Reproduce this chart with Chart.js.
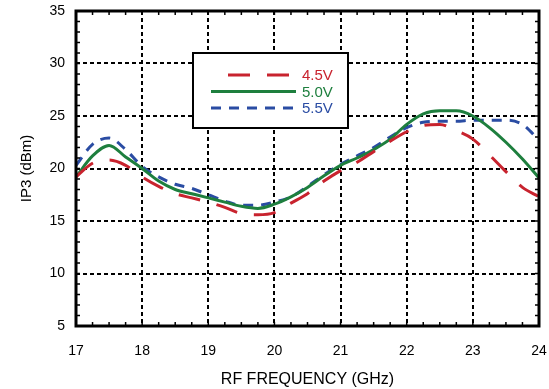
<!DOCTYPE html>
<html>
<head>
<meta charset="utf-8">
<script src="https://cdn.jsdelivr.net/npm/chart.js@4.4.1/dist/chart.umd.min.js"></script>
<style>
  html, body { margin: 0; padding: 0; background: #fff; }
  #wrap { width: 549px; height: 389px; }
</style>
</head>
<body>
<div id="wrap"><canvas id="ip3"></canvas></div>
<script>
// RF frequency sweep, GHz
const freqs = [17, 17.25, 17.5, 17.75, 18, 18.25, 18.5, 18.75, 19, 19.25, 19.5, 19.75,
  20, 20.25, 20.5, 20.75, 21, 21.25, 21.5, 21.75, 22, 22.25, 22.5, 22.75,
  23, 23.25, 23.5, 23.75, 24]

// IP3 in dBm at each supply voltage
const ip3At4v5 = [19.2, 20.5, 20.8, 20.3, 19.2, 18.3, 17.6, 17.2, 16.8, 16.3, 15.7, 15.6,
  15.8, 16.7, 17.6, 18.8, 19.8, 20.6, 21.6, 22.6, 23.5, 24.1, 24.2, 23.6,
  22.8, 21.3, 19.7, 18.2, 17.3]
const ip3At5v0 = [19.2, 21.2, 22.2, 21.1, 20.0, 18.8, 18.0, 17.6, 17.2, 16.8, 16.4, 16.2,
  16.6, 17.3, 18.2, 19.3, 20.3, 21.0, 21.8, 22.8, 24.2, 25.2, 25.5, 25.5,
  25.0, 23.9, 22.5, 20.9, 19.1]
const ip3At5v5 = [20.3, 22.3, 22.9, 21.8, 20.2, 19.2, 18.5, 18.1, 17.5, 16.9, 16.5, 16.5,
  16.8, 17.3, 18.3, 19.4, 20.4, 21.2, 22.0, 23.0, 23.9, 24.4, 24.5, 24.5,
  24.6, 24.6, 24.6, 24.2, 22.7]

const seriesNames = ['4.5V', '5.0V', '5.5V']
const xTicks = [17, 18, 19, 20, 21, 22, 23, 24]
const yTicks = [5, 10, 15, 20, 25, 30, 35]

const FONT = "'Liberation Sans', Arial, Helvetica, sans-serif"
const RED = '#c8232e'
const GREEN = '#1e7f3e'
const BLUE = '#2a4ca3'

const toPoints = (vals) => vals.map((v, i) => ({ x: freqs[i], y: v }))

// solid frame + small inward ticks on all four sides
const framePlugin = {
  id: 'frame',
  afterDatasetsDraw(chart) {
    const { ctx, chartArea: a, scales } = chart
    const x = scales.x
    const y = scales.y
    ctx.save()
    ctx.strokeStyle = '#000'
    ctx.setLineDash([])
    ctx.lineWidth = 1.5
    ctx.beginPath()
    for (let v = 17; v <= 24.001; v += 0.25) {
      const px = x.getPixelForValue(v)
      ctx.moveTo(px, a.bottom)
      ctx.lineTo(px, a.bottom - 4)
      ctx.moveTo(px, a.top)
      ctx.lineTo(px, a.top + 4)
    }
    for (let v = 5; v <= 35; v += 1) {
      const py = y.getPixelForValue(v)
      ctx.moveTo(a.left, py)
      ctx.lineTo(a.left + 4, py)
      ctx.moveTo(a.right, py)
      ctx.lineTo(a.right - 4, py)
    }
    ctx.stroke()
    ctx.lineWidth = 3
    ctx.strokeRect(a.left, a.top, a.right - a.left, a.bottom - a.top)
    ctx.restore()
  },
}

// boxed legend with line samples and coloured labels
const boxLegend = {
  id: 'boxLegend',
  afterDraw(chart, args, opts) {
    const { ctx } = chart
    ctx.save()
    ctx.fillStyle = '#fff'
    ctx.fillRect(opts.left, opts.top, opts.width, opts.height)
    ctx.strokeStyle = '#000'
    ctx.lineWidth = 2
    ctx.setLineDash([])
    ctx.strokeRect(opts.left, opts.top, opts.width, opts.height)

    chart.data.datasets.forEach((ds, i) => {
      const rowY = opts.top + opts.firstRow + i * opts.rowGap
      ctx.strokeStyle = ds.borderColor
      ctx.lineWidth = ds.borderWidth
      ctx.setLineDash(ds.borderDash || [])
      ctx.lineDashOffset = ds.legendDashOffset || 0
      ctx.beginPath()
      ctx.moveTo(opts.left + 18, rowY)
      ctx.lineTo(opts.left + 103, rowY)
      ctx.stroke()

      ctx.setLineDash([])
      ctx.fillStyle = ds.borderColor
      ctx.font = '15px ' + FONT
      ctx.textBaseline = 'middle'
      ctx.textAlign = 'left'
      ctx.fillText(ds.label, opts.left + 109, rowY + 1)
    })
    ctx.restore()
  },
}

new Chart(document.getElementById('ip3'), {
  type: 'line',
  data: {
    datasets: [
      {
        label: seriesNames[0],
        data: toPoints(ip3At4v5),
        borderColor: RED,
        borderWidth: 3,
        borderDash: [22, 17],
        legendDashOffset: 22,
        cubicInterpolationMode: 'monotone',
        pointRadius: 0,
        fill: false,
      },
      {
        label: seriesNames[1],
        data: toPoints(ip3At5v0),
        borderColor: GREEN,
        borderWidth: 3,
        cubicInterpolationMode: 'monotone',
        pointRadius: 0,
        fill: false,
      },
      {
        label: seriesNames[2],
        data: toPoints(ip3At5v5),
        borderColor: BLUE,
        borderWidth: 3,
        borderDash: [10, 8],
        cubicInterpolationMode: 'monotone',
        pointRadius: 0,
        fill: false,
      },
    ],
  },
  options: {
    responsive: true,
    maintainAspectRatio: false,
    animation: false,
    events: [],
    layout: { padding: { top: 11, right: 10, bottom: 0, left: 0 } },
    scales: {
      x: {
        type: 'linear',
        min: 17,
        max: 24,
        afterBuildTicks: (scale) => {
          scale.ticks = xTicks.map((v) => ({ value: v }))
        },
        afterFit: (scale) => {
          scale.height = 63
          scale.paddingLeft = 0
          scale.paddingRight = 0
        },
        ticks: {
          color: '#000',
          font: { family: FONT, size: 14 },
          padding: 17,
          maxRotation: 0,
        },
        grid: { color: '#000', lineWidth: 2, drawTicks: false },
        border: { display: false, dash: [4, 3] },
        title: {
          display: true,
          text: 'RF FREQUENCY (GHz)',
          color: '#000',
          font: { family: FONT, size: 16 },
          padding: { top: 8, bottom: 0 },
        },
      },
      y: {
        min: 5,
        max: 35,
        afterBuildTicks: (scale) => {
          scale.ticks = yTicks.map((v) => ({ value: v }))
        },
        afterFit: (scale) => {
          scale.width = 76
          scale.paddingTop = 0
          scale.paddingBottom = 0
        },
        ticks: {
          color: '#000',
          font: { family: FONT, size: 14 },
          padding: 11,
        },
        grid: { color: '#000', lineWidth: 2, drawTicks: false },
        border: { display: false, dash: [4, 3] },
        title: {
          display: true,
          text: 'IP3 (dBm)',
          color: '#000',
          font: { family: FONT, size: 15 },
          padding: { top: 18, bottom: 0 },
        },
      },
    },
    plugins: {
      legend: { display: false },
      tooltip: { enabled: false },
      boxLegend: { left: 193, top: 53, width: 155, height: 75, firstRow: 22, rowGap: 16.5 },
    },
  },
  plugins: [framePlugin, boxLegend],
})
</script>
</body>
</html>
